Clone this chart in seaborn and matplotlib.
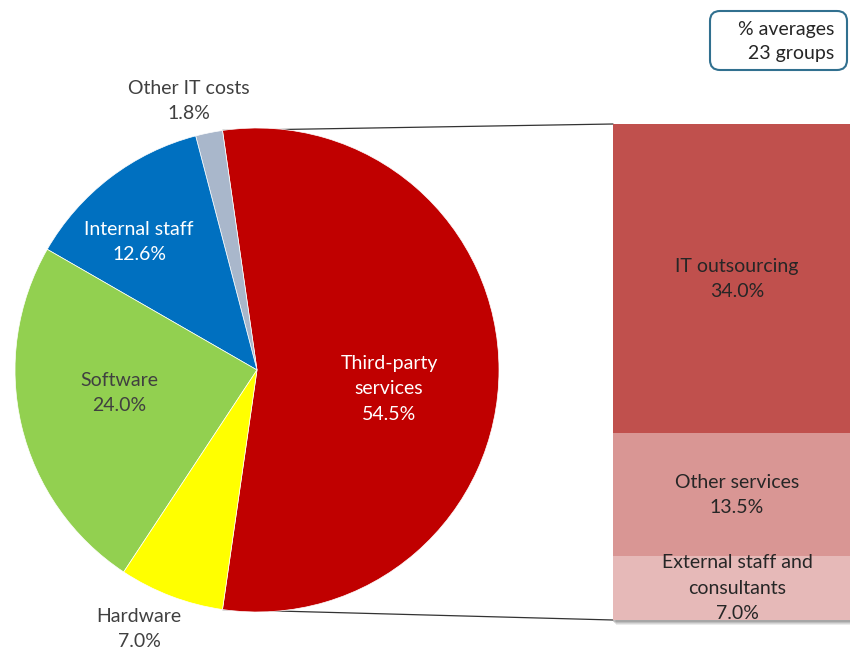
import numpy as np
import pandas as pd
import matplotlib
matplotlib.use("Agg")
import matplotlib.pyplot as plt
from matplotlib.patches import FancyBboxPatch, Rectangle
import seaborn as sns

# ---- data ----
pie_labels = ["Third-party\nservices", "Other IT costs", "Internal staff", "Software", "Hardware"]
pie_values = [54.5, 1.8, 12.6, 24.0, 7.0]
pie_colors = ["#C00000", "#A9B7CB", "#0070C0", "#92D050", "#FFFF00"]

bar_labels = ["External staff and\nconsultants", "Other services", "IT outsourcing"]
bar_values = [7.0, 13.5, 34.0]
bar_colors = ["#E6B9B8", "#D99694", "#C0504D"]

note_text = "% averages\n23 groups"

sns.set_theme(style="white")
plt.rcParams['font.family'] = ['Lato', 'DejaVu Sans']

W, H = 850, 651
fig = plt.figure(figsize=(W / 100, H / 100), dpi=100)
ax = fig.add_axes([0, 0, 1, 1])

cx, cy, R = 257, H - 370, 242
total = sum(pie_values)
third_span = pie_values[0] / total * 360
start = -third_span / 2
wedges, _ = ax.pie(pie_values, colors=pie_colors, startangle=start, counterclock=True,
                   center=(cx, cy), radius=R, normalize=True,
                   wedgeprops=dict(edgecolor="white", linewidth=0.5))
ax.set_xlim(0, W)
ax.set_ylim(0, H)
ax.set_aspect("equal")
ax.axis("off")

# bar geometry (pixels)
bx0, bx1, by_top, by_bot = 613, 861, 124, 620

# connector lines
a_top = np.deg2rad(start + third_span)
a_bot = np.deg2rad(start)
ax.plot([cx + R * np.cos(a_top), bx0], [cy + R * np.sin(a_top), H - by_top], color="#333333", lw=0.9, zorder=0)
ax.plot([cx + R * np.cos(a_bot), bx0], [cy + R * np.sin(a_bot), H - by_bot], color="#333333", lw=0.9, zorder=0)

# soft shadow of bar
for k, al in enumerate([0.12, 0.15, 0.2, 0.25]):
    off = 5 - k
    ax.add_patch(Rectangle((bx0 + off - 2, H - by_bot - off), bx1 - bx0, by_bot - by_top,
                           color="#606060", alpha=al, lw=0, zorder=0))

fs = 14
ls = 1.6
dark = "#404040"
pie_text = {
    0: ((389, 389), "white"),
    1: ((189, 101), dark),
    2: ((139, 242), "white"),
    3: ((119, 393), dark),
    4: ((139, 629), dark),
}
for i, ((px, py), col) in pie_text.items():
    ax.text(px, H - py, f"{pie_labels[i]}\n{pie_values[i]:.1f}%", ha="center", va="center",
            color=col, fontsize=fs, linespacing=ls)

# note box
box = FancyBboxPatch((710, H - 70), 137, 59, boxstyle="round,pad=0,rounding_size=10",
                     fc="white", ec="#31708F", lw=1.5)
ax.add_patch(box)
ax.text(834, H - 41, note_text, ha="right", va="center", fontsize=fs, color="#262626", linespacing=1.5)

# stacked bar via seaborn (cumulative overlay)
ax2 = fig.add_axes([bx0 / W, (H - by_bot) / H, (bx1 - bx0) / W, (by_bot - by_top) / H])
cum = np.cumsum(bar_values)
for i in reversed(range(len(bar_values))):
    df = pd.DataFrame({"x": ["bar"], "y": [cum[i]]})
    sns.barplot(data=df, x="x", y="y", color=bar_colors[i], saturation=1, width=1,
                ax=ax2, linewidth=0)
ax2.set_xlim(-0.5, 0.5)
ax2.set_ylim(0, cum[-1])
ax2.axis("off")
for i, v in enumerate(bar_values):
    mid = cum[i] - v / 2
    ax2.text(0, mid, f"{bar_labels[i]}\n{v:.1f}%", ha="center", va="center", fontsize=fs,
             color="#262626", linespacing=ls, clip_on=True)

fig.savefig("out.png", dpi=100)
